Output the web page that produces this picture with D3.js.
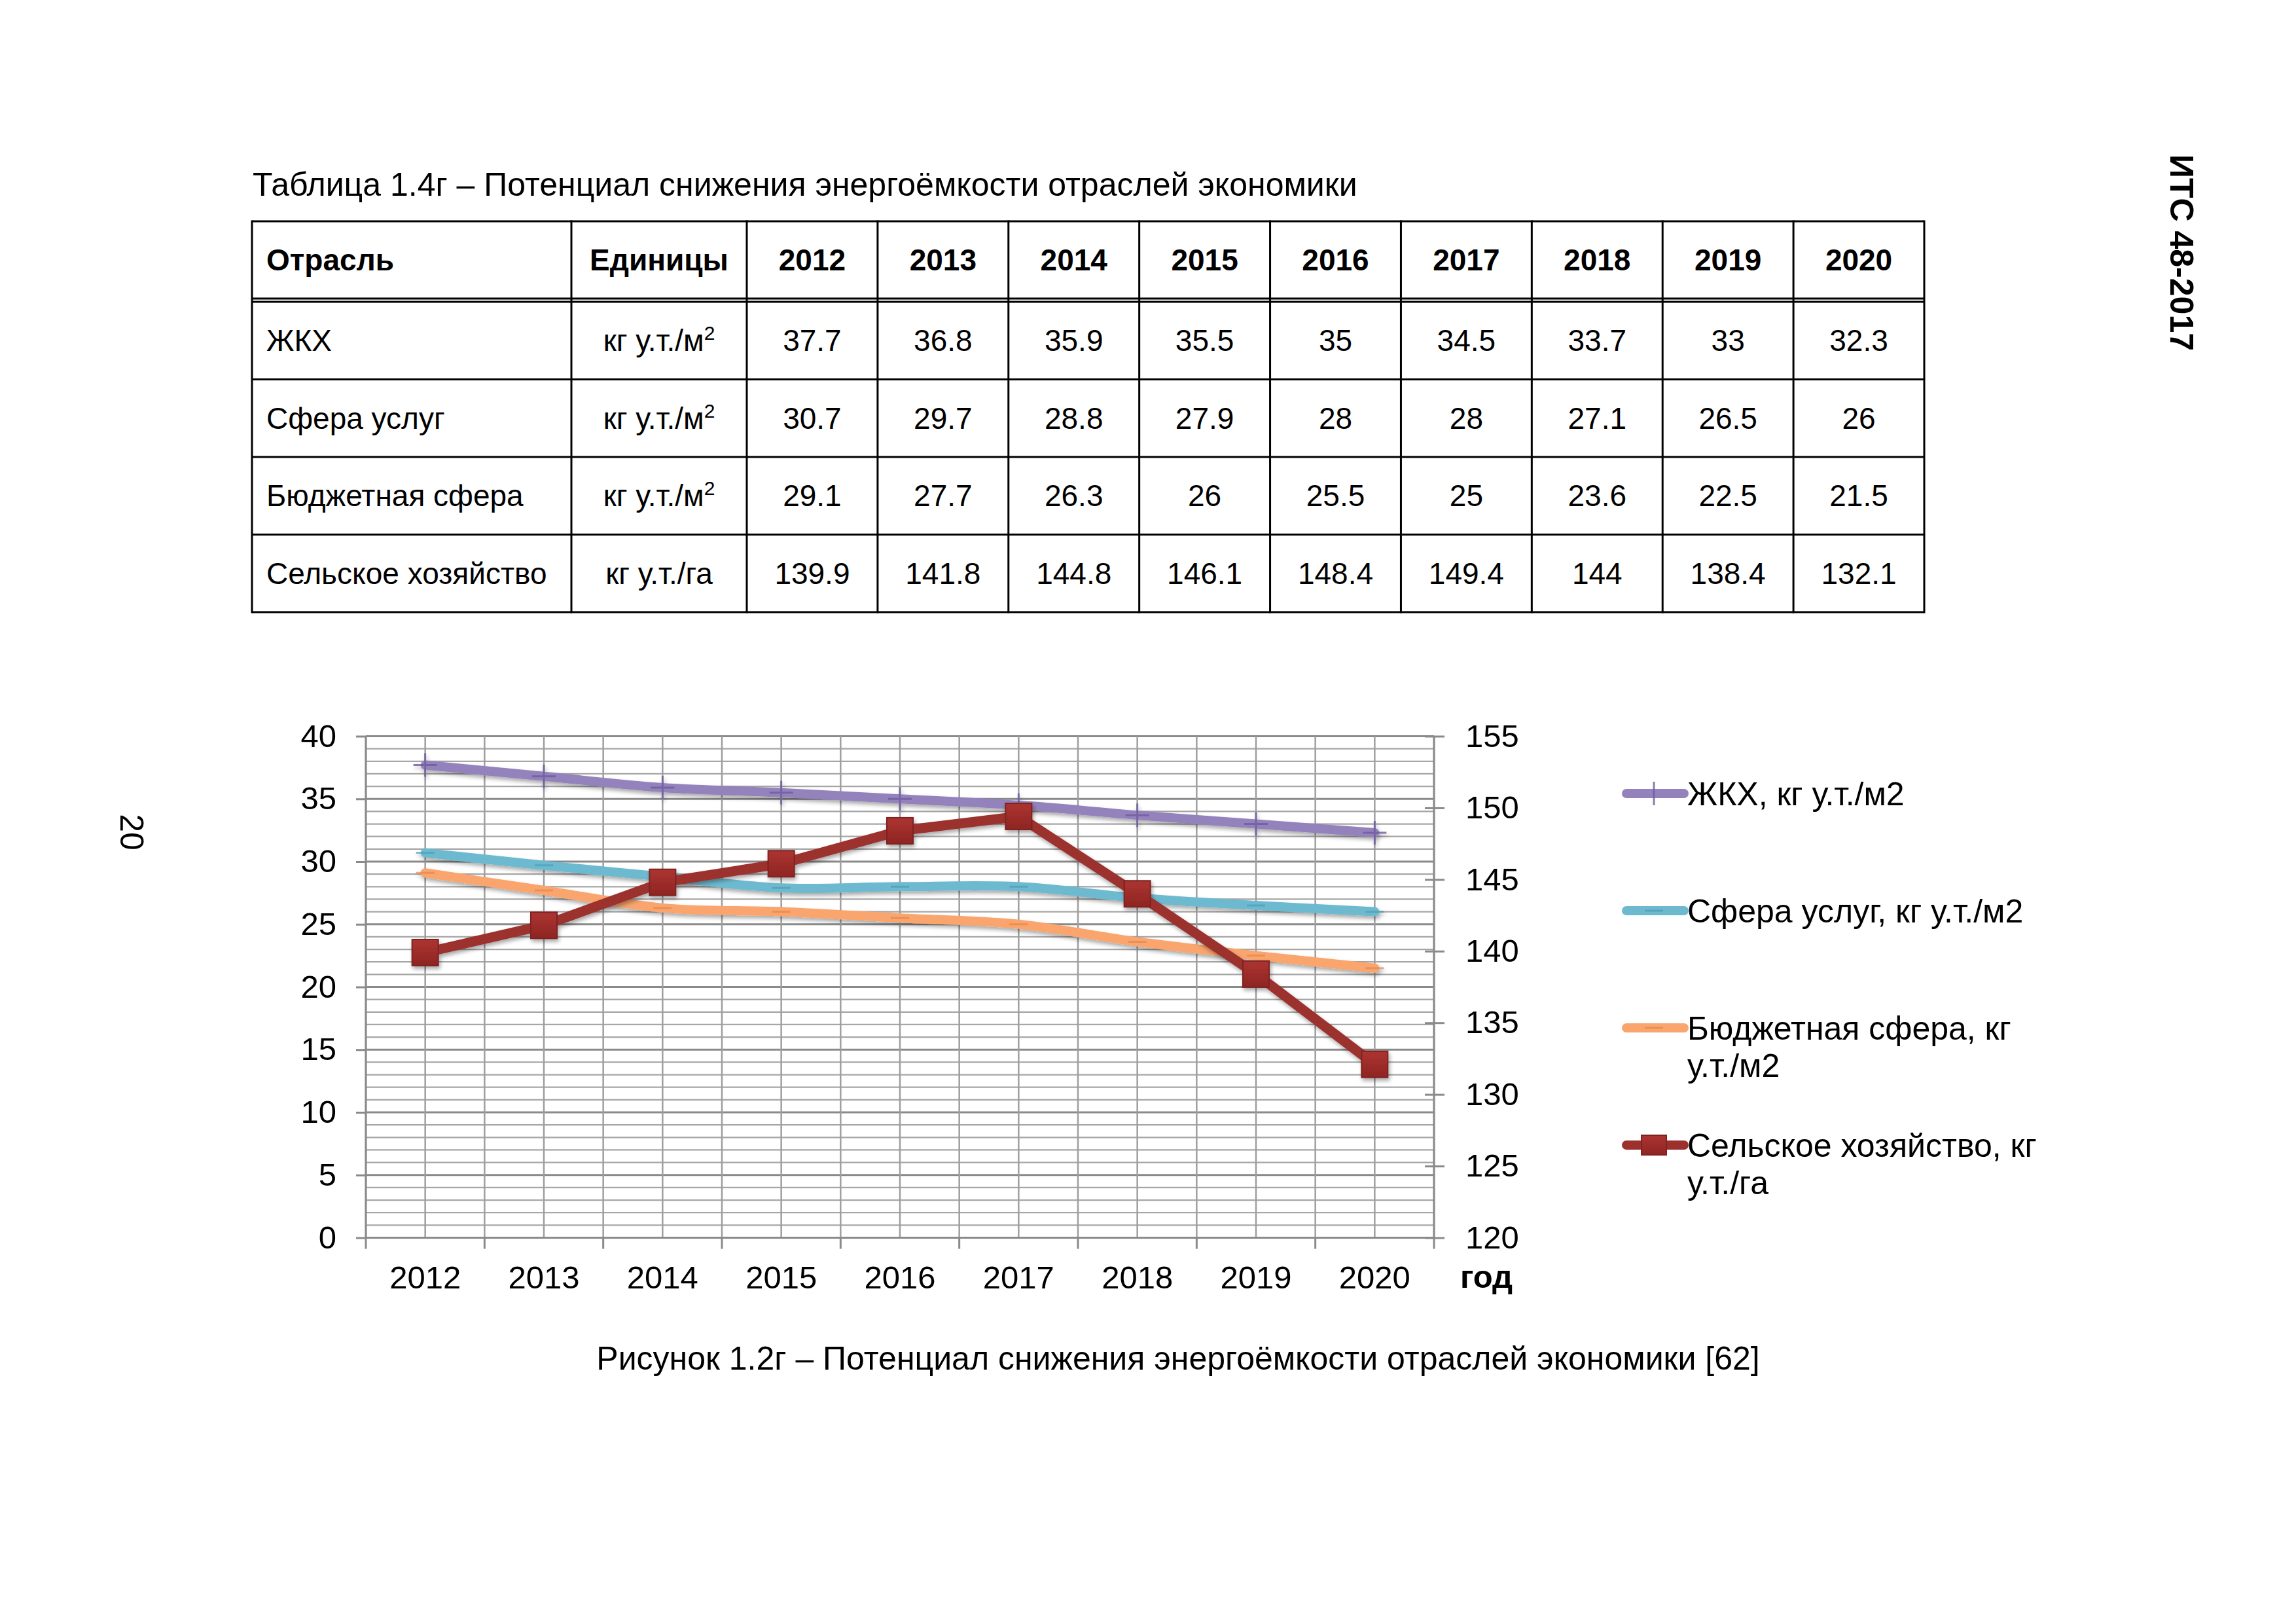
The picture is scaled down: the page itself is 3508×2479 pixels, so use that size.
<!DOCTYPE html>
<html><head><meta charset="utf-8">
<script src="https://cdn.jsdelivr.net/npm/d3@7"></script>
<style>
body{margin:0;background:#fff}
svg{display:block}
text{font-family:"Liberation Sans",Arial,sans-serif;fill:#000}
</style>
</head><body>
<svg id="c" width="3508" height="2479"></svg>
<script>
// ---------------- DATA ----------------
const years = [2012, 2013, 2014, 2015, 2016, 2017, 2018, 2019, 2020];
const sectors = ["ЖКХ", "Сфера услуг", "Бюджетная сфера", "Сельское хозяйство"];
const units = ["кг у.т./м2", "кг у.т./м2", "кг у.т./м2", "кг у.т./га"];
const zhkh = [37.7, 36.8, 35.9, 35.5, 35, 34.5, 33.7, 33, 32.3];
const services = [30.7, 29.7, 28.8, 27.9, 28, 28, 27.1, 26.5, 26];
const budget = [29.1, 27.7, 26.3, 26, 25.5, 25, 23.6, 22.5, 21.5];
const agriculture = [139.9, 141.8, 144.8, 146.1, 148.4, 149.4, 144, 138.4, 132.1];
const legendLabels = ["ЖКХ, кг у.т./м2", "Сфера услуг, кг у.т./м2", "Бюджетная сфера, кг у.т./м2", "Сельское хозяйство, кг у.т./га"];
const leftTicks = [0, 5, 10, 15, 20, 25, 30, 35, 40];
const rightTicks = [120, 125, 130, 135, 140, 145, 150, 155];
const tableHeader = ["Отрасль", "Единицы"];
const tableTitle = "Таблица 1.4г – Потенциал снижения энергоёмкости отраслей экономики";
const caption = "Рисунок 1.2г – Потенциал снижения энергоёмкости отраслей экономики [62]";
const xAxisTitle = "год";
const docCode = "ИТС 48-2017";
const pageNumber = "20";

// ---------------- SETUP ----------------
const svg = d3.select("#c");
const FONT = 50;
const TFONT = 46;

// header / page marks
svg.append("text").attr("transform", "translate(3333,386) rotate(90)")
  .attr("text-anchor", "middle").attr("dy", "0.35em")
  .style("font-size", FONT + "px").style("font-weight", "bold").text(docCode);
svg.append("text").attr("transform", "translate(201,1271) rotate(90)")
  .attr("text-anchor", "middle").attr("dy", "0.35em")
  .style("font-size", FONT + "px").text(pageNumber);

// ---------------- TABLE ----------------
svg.append("text").attr("x", 386).attr("y", 299).style("font-size", FONT + "px").text(tableTitle);

const tX0 = 385, tX1 = 2940;
const colEdges = [tX0, 873, 1141];
const yearCol = d3.scaleLinear().domain([0, years.length]).range([1141, tX1]);
years.forEach((y, i) => colEdges.push(yearCol(i + 1)));
const tY0 = 338, hdrBottom = 456, rowsTop = 461, tY1 = 935;
const rowH = (tY1 - rowsTop) / sectors.length;
const rowEdges = [rowsTop];
sectors.forEach((s, i) => rowEdges.push(rowsTop + rowH * (i + 1)));

const tg = svg.append("g");
[tY0, hdrBottom, rowsTop].concat(rowEdges.slice(1)).forEach(y => {
  tg.append("line").attr("x1", tX0).attr("x2", tX1).attr("y1", y).attr("y2", y)
    .attr("stroke", "#000").attr("stroke-width", 3);
});
colEdges.forEach(x => {
  tg.append("line").attr("x1", x).attr("x2", x).attr("y1", tY0 - 1.5).attr("y2", tY1 + 1.5)
    .attr("stroke", "#000").attr("stroke-width", 3);
});
const cellCenter = i => (colEdges[i] + colEdges[i + 1]) / 2;
const hdrMid = (tY0 + hdrBottom) / 2;
tg.append("text").attr("x", tX0 + 22).attr("y", hdrMid + 16).style("font-size", TFONT + "px")
  .style("font-weight", "bold").text(tableHeader[0]);
tg.append("text").attr("x", cellCenter(1)).attr("y", hdrMid + 16).attr("text-anchor", "middle")
  .style("font-size", TFONT + "px").style("font-weight", "bold").text(tableHeader[1]);
years.forEach((y, i) => {
  tg.append("text").attr("x", cellCenter(i + 2)).attr("y", hdrMid + 16).attr("text-anchor", "middle")
    .style("font-size", TFONT + "px").style("font-weight", "bold").text(y);
});
const tableSeries = [zhkh, services, budget, agriculture];
sectors.forEach((s, r) => {
  const mid = (rowEdges[r] + rowEdges[r + 1]) / 2 + 16;
  tg.append("text").attr("x", tX0 + 22).attr("y", mid).style("font-size", TFONT + "px").text(s);
  const u = units[r];
  const ut = tg.append("text").attr("x", cellCenter(1)).attr("y", mid).attr("text-anchor", "middle")
    .style("font-size", TFONT + "px");
  if (u.endsWith("м2")) {
    ut.append("tspan").text(u.slice(0, -1));
    ut.append("tspan").attr("dy", -17).style("font-size", "30px").text("2");
  } else {
    ut.text(u);
  }
  tableSeries[r].forEach((v, i) => {
    tg.append("text").attr("x", cellCenter(i + 2)).attr("y", mid).attr("text-anchor", "middle")
      .style("font-size", TFONT + "px").text(String(v));
  });
});

// ---------------- CHART ----------------
const pL = 559, pR = 2191, pT = 1124.5, pB = 1890.5;
const x = d3.scaleBand().domain(years).range([pL, pR]).paddingInner(0).paddingOuter(0);
const cx = d => x(d) + x.bandwidth() / 2;
const yL = d3.scaleLinear().domain([0, 40]).range([pB, pT]);
const yR = d3.scaleLinear().domain([120, 155]).range([pB, pT]);

const defs = svg.append("defs");
const f = defs.append("filter").attr("id", "shadow").attr("x", "-10%").attr("y", "-10%")
  .attr("width", "120%").attr("height", "130%");
f.append("feGaussianBlur").attr("in", "SourceAlpha").attr("stdDeviation", 3).attr("result", "b");
f.append("feOffset").attr("in", "b").attr("dx", 2).attr("dy", 4).attr("result", "o");
f.append("feComponentTransfer").attr("in", "o").attr("result", "o2")
  .append("feFuncA").attr("type", "linear").attr("slope", 0.35);
const fm = f.append("feMerge");
fm.append("feMergeNode").attr("in", "o2");
fm.append("feMergeNode").attr("in", "SourceGraphic");

const grad = defs.append("linearGradient").attr("id", "sq").attr("x1", 0).attr("y1", 0).attr("x2", 0).attr("y2", 1);
grad.append("stop").attr("offset", 0).attr("stop-color", "#AC3431");
grad.append("stop").attr("offset", 1).attr("stop-color", "#8E2522");

const cg = svg.append("g");
const minor = d3.range(0, 41, 1);
cg.selectAll(".hg").data(minor).join("line")
  .attr("x1", pL).attr("x2", pR).attr("y1", d => yL(d)).attr("y2", d => yL(d))
  .attr("stroke", d => d % 5 === 0 ? "#8a8a8a" : "#a6a6a6")
  .attr("stroke-width", d => d % 5 === 0 ? 3 : 2.2);
const vg = [];
years.forEach(yv => { vg.push(x(yv)); vg.push(cx(yv)); });
vg.push(pR);
cg.selectAll(".vg").data(vg).join("line")
  .attr("x1", d => d).attr("x2", d => d).attr("y1", pT).attr("y2", pB)
  .attr("stroke", "#9e9e9e").attr("stroke-width", 2.5);

const axL = d3.axisLeft(yL).tickValues(leftTicks).tickSize(15).tickPadding(30).tickFormat(d3.format("d"));
const gL = cg.append("g").attr("transform", `translate(${pL},0)`).call(axL);
const axR = d3.axisRight(yR).tickValues(rightTicks).tickSize(16).tickPadding(32).tickFormat(d3.format("d"));
const gR = cg.append("g").attr("transform", `translate(${pR},0)`).call(axR);
gR.selectAll(".tick").append("line").attr("x1", -14).attr("x2", 0).attr("stroke", "#8a8a8a").attr("stroke-width", 3);
const axB = d3.axisBottom(x).tickSize(0).tickPadding(43);
const gB = cg.append("g").attr("transform", `translate(0,${pB})`).call(axB);
cg.selectAll(".bt").data(years.map(d => x(d)).concat([pR])).join("line")
  .attr("x1", d => d).attr("x2", d => d).attr("y1", pB).attr("y2", pB + 17)
  .attr("stroke", "#8a8a8a").attr("stroke-width", 3);

[gL, gR, gB].forEach(g => {
  g.select(".domain").attr("stroke", "#8a8a8a").attr("stroke-width", 3);
  g.selectAll(".tick line").attr("stroke", "#8a8a8a").attr("stroke-width", 3);
  g.selectAll(".tick text").style("font-size", "49px").style("font-family", '"Liberation Sans",Arial,sans-serif').attr("fill", "#000");
});
gB.select(".domain").remove();
cg.append("line").attr("x1", pL).attr("x2", pR).attr("y1", pB).attr("y2", pB).attr("stroke", "#8a8a8a").attr("stroke-width", 3);
gL.select(".domain").attr("d", `M0,${pT}V${pB}`);
gR.select(".domain").attr("d", `M0,${pT}V${pB}`);

cg.append("text").attr("x", 2231).attr("y", 1967).style("font-size", "49px").style("font-weight", "bold").text(xAxisTitle);

// series
const series = [
  {vals: zhkh, y: yL, color: "#9482BD", mk: "plus", mc: "#6F5C9E", curve: d3.curveCardinal},
  {vals: services, y: yL, color: "#6DBAD0", mk: "dash", mc: "#4C9DB6", curve: d3.curveCardinal},
  {vals: budget, y: yL, color: "#F9A56D", mk: "dash", mc: "#E5874A", curve: d3.curveCardinal},
  {vals: agriculture, y: yR, color: "#9B302D", mk: "square", mc: "#7E2220", curve: d3.curveLinear}
];
const sg = svg.append("g");
series.forEach(s => {
  const pts = years.map((yv, i) => [cx(yv), s.y(s.vals[i])]);
  const line = d3.line().curve(s.curve);
  const g = sg.append("g").attr("filter", "url(#shadow)");
  g.append("path").attr("d", line(pts)).attr("fill", "none").attr("stroke", s.color)
    .attr("stroke-width", s.mk === "square" ? 15 : 14).attr("stroke-linecap", "round").attr("stroke-linejoin", "round");
  pts.forEach(p => {
    if (s.mk === "plus") {
      g.append("path").attr("d", `M${p[0] - 18},${p[1]}H${p[0] + 18}M${p[0]},${p[1] - 18}V${p[1] + 18}`)
        .attr("stroke", s.mc).attr("stroke-width", 3).attr("opacity", 0.8);
    } else if (s.mk === "dash") {
      g.append("path").attr("d", `M${p[0] - 14},${p[1]}H${p[0] + 14}`)
        .attr("stroke", s.mc).attr("stroke-width", 3).attr("opacity", 0.7);
    } else {
      g.append("rect").attr("x", p[0] - 20).attr("y", p[1] - 20).attr("width", 40).attr("height", 40)
        .attr("fill", "url(#sq)").attr("stroke", s.mc).attr("stroke-width", 2);
    }
  });
});

// legend
const lg = svg.append("g");
const legY = [1212, 1391, 1570, 1749];
series.forEach((s, i) => {
  const y = legY[i];
  const g = lg.append("g");
  g.append("line").attr("x1", 2485).attr("x2", 2573).attr("y1", y).attr("y2", y)
    .attr("stroke", s.color).attr("stroke-width", 14).attr("stroke-linecap", "round");
  const mx = 2527;
  if (s.mk === "plus") {
    g.append("path").attr("d", `M${mx},${y - 18}V${y + 18}`).attr("stroke", s.mc).attr("stroke-width", 3).attr("opacity", 0.8);
  } else if (s.mk === "dash") {
    g.append("path").attr("d", `M${mx - 14},${y}H${mx + 14}`).attr("stroke", s.mc).attr("stroke-width", 3).attr("opacity", 0.7);
  } else {
    g.append("rect").attr("x", mx - 19).attr("y", y - 15).attr("width", 38).attr("height", 30)
      .attr("fill", "url(#sq)").attr("stroke", s.mc).attr("stroke-width", 2);
  }
  const t = g.append("text").attr("x", 2578).attr("y", y + 18).style("font-size", "50px");
  const words = legendLabels[i].split(" ");
  let lineWords = [];
  let ts = t.append("tspan").attr("x", 2578).attr("dy", 0);
  words.forEach(w => {
    lineWords.push(w);
    ts.text(lineWords.join(" "));
    if (ts.node().getComputedTextLength() > 560 && lineWords.length > 1) {
      lineWords.pop();
      ts.text(lineWords.join(" "));
      lineWords = [w];
      ts = t.append("tspan").attr("x", 2578).attr("dy", 57).text(w);
    }
  });
});

// caption
svg.append("text").attr("x", 1800).attr("y", 2092).attr("text-anchor", "middle")
  .style("font-size", FONT + "px").text(caption);
</script>
</body></html>
